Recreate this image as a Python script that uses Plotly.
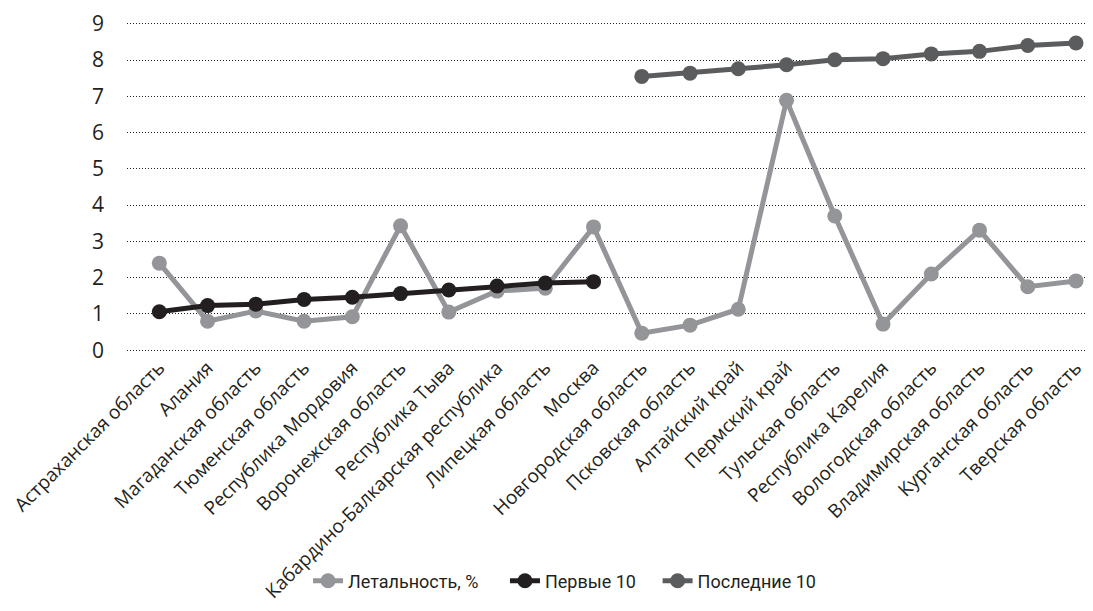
import plotly.graph_objects as go

regions = [
    "Астраханская область", "Алания", "Магаданская область", "Тюменская область",
    "Республика Мордовия", "Воронежская область", "Республика Тыва",
    "Кабардино-Балкарская республика", "Липецкая область", "Москва",
    "Новгородская область", "Псковская область", "Алтайский край", "Пермский край",
    "Тульская область", "Республика Карелия", "Вологодская область",
    "Владимирская область", "Курганская область", "Тверская область",
]

letality = [2.40, 0.80, 1.08, 0.80, 0.92, 3.43, 1.05, 1.63, 1.71, 3.40,
            0.47, 0.69, 1.13, 6.89, 3.70, 0.72, 2.10, 3.31, 1.75, 1.91]

first10 = [1.06, 1.23, 1.27, 1.40, 1.46, 1.56, 1.66, 1.77, 1.85, 1.89]
last10 = [7.55, 7.64, 7.76, 7.87, 8.01, 8.04, 8.17, 8.24, 8.40, 8.47]

y_ticks = [0, 1, 2, 3, 4, 5, 6, 7, 8, 9]

FONT = "Open Sans"
LEGEND_FONT = "Roboto"

fig = go.Figure()
fig.add_trace(go.Scatter(
    x=regions, y=letality, name="Летальность, %", mode="lines+markers",
    line=dict(color="#939598", width=5), marker=dict(size=15, color="#939598"),
    legend="legend",
))
fig.add_trace(go.Scatter(
    x=regions[:10], y=first10, name="Первые 10", mode="lines+markers",
    line=dict(color="#231f20", width=5), marker=dict(size=15, color="#231f20"),
    legend="legend2",
))
fig.add_trace(go.Scatter(
    x=regions[10:], y=last10, name="Последние 10", mode="lines+markers",
    line=dict(color="#5b5c5e", width=5), marker=dict(size=15, color="#5b5c5e"),
    legend="legend3",
))

def leg(x):
    return dict(
        orientation="h", x=x, xanchor="left", y=-0.694, yanchor="middle",
        font=dict(size=18, family=LEGEND_FONT, color="#231f20"),
        itemclick=False, itemdoubleclick=False, bgcolor="rgba(0,0,0,0)",
    )

fig.update_layout(
    width=1085, height=603,
    margin=dict(l=119, r=3, t=14, b=259, autoexpand=False),
    paper_bgcolor="white", plot_bgcolor="white",
    font=dict(family=FONT, color="#231f20"),
    showlegend=True,
    legend=leg(0.188),
    legend2=leg(0.3925),
    legend3=leg(0.551),
    xaxis=dict(
        type="category", categoryorder="array", categoryarray=regions,
        range=[-0.67, 19.29], tickangle=-45, automargin=False,
        tickfont=dict(size=19, family=FONT, color="#231f20"),
        showgrid=False, showline=False, zeroline=False, ticks="",
    ),
    yaxis=dict(
        range=[-0.05, 9.05], tickvals=y_ticks, ticktext=[str(v) for v in y_ticks],
        tickfont=dict(size=21, family=FONT, color="#231f20"), automargin=False,
        showgrid=True, gridcolor="#231f20", gridwidth=1, griddash="1px,2px",
        zeroline=False, showline=False, ticks="", ticklabelstandoff=22,
    ),
)

fig.write_html("out.html")
